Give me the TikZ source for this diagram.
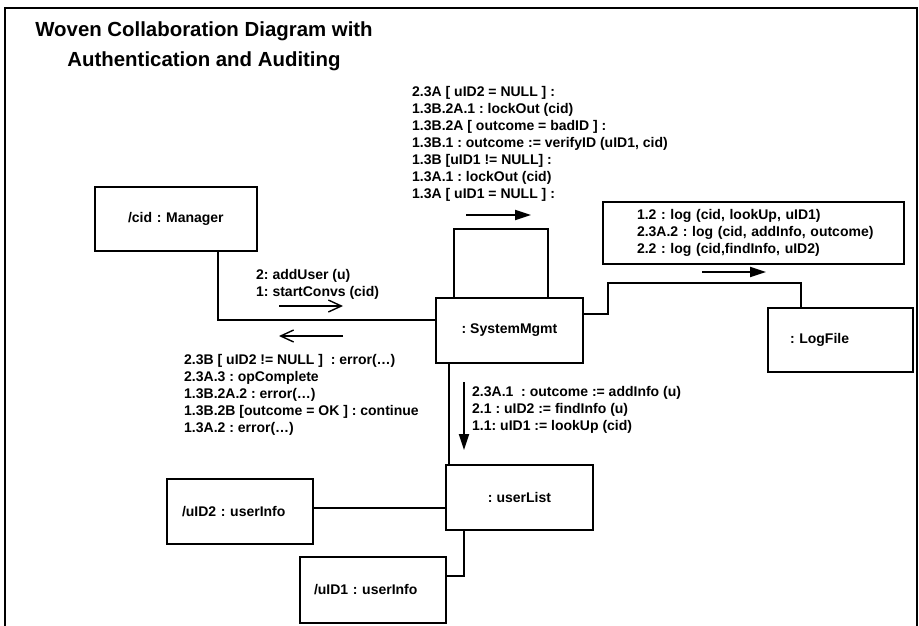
\documentclass[tikz,border=0pt]{standalone}
\usepackage{fontspec}
\setmainfont{Liberation Sans}
\usetikzlibrary{arrows.meta}
\frenchspacing
\begin{document}
\begin{tikzpicture}[x=1pt,y=-1pt,
  font=\bfseries\fontsize{14}{17.1}\selectfont,
  obj/.style={draw, line width=1.7pt, minimum width=146pt, minimum height=65pt, inner ysep=0pt, align=left},
  link/.style={line width=1.7pt},
  msg/.style={align=left, anchor=north west, inner sep=0pt},
  solidarrow/.style={line width=1.8pt, -{Triangle[length=16pt,width=10pt]}},
  openarrow/.style={line width=1.4pt, -{Straight Barb[length=13pt,width=12pt]}},
]
\useasboundingbox (0,0) rectangle (919,625);

% outer frame
\draw[line width=2pt] (5,640) -- (5,8) -- (917,8) -- (917,640);

% title
\node[align=center, anchor=north, inner sep=0pt, font=\bfseries\fontsize{20.4}{30}\selectfont] (title) at (204,22)
  {Woven Collaboration Diagram with\\Authentication and Auditing};

% objects
\node[obj, minimum width=162pt, minimum height=64pt, inner xsep=33pt, text width=96pt] (mgr) at (176,219) {/cid : Manager};
\node[obj, minimum width=147pt, align=center] (sys) at (509.5,330.5) {: SystemMgmt};
\node[obj, minimum width=145pt, minimum height=64pt, inner xsep=22pt, text width=101pt] (logf) at (840.5,340) {: LogFile};
\node[obj, minimum width=147pt, align=center] (ul) at (519.5,497.5) {: userList};
\node[obj, inner xsep=15pt, text width=116pt] (uid2) at (240,511.5) {/uID2 : userInfo};
\node[obj, minimum height=66pt, inner xsep=14pt, text width=118pt] (uid1) at (373,590) {/uID1 : userInfo};

% note box with the logging messages
\node[draw, line width=1.5pt, minimum height=62pt, inner xsep=34pt, text width=233pt, align=left] (lognote) at (753.5,233)
  {\mbox{1.2 : log (cid, lookUp, uID1)}\\
   \mbox{2.3A.2 : log (cid, addInfo, outcome)}\\
   \mbox{2.2 : log (cid,findInfo, uID2)}};

% links
\draw[link] ([xshift=42pt]mgr.south) |- ([yshift=10.5pt]sys.west);
\draw[link] ([xshift=19pt]sys.north west) -- ++(0,-68) -| ([xshift=-36pt]sys.north east);
\draw[link] ([yshift=16.5pt]sys.east) -- ++(24,0) |- ([xshift=-39.5pt,yshift=24pt]logf.north) -- ([xshift=-39.5pt]logf.north);
\draw[link] ([xshift=14pt]sys.south west) -- ([xshift=14pt]sys.south west |- ul.north);
\draw[link] ([yshift=3.5pt]uid2.east) -- ([yshift=3.5pt]uid2.east -| ul.west);
\draw[link] ([xshift=19pt]ul.south west) |- ([yshift=14pt]uid1.east);

% message direction arrows
\coordinate (selfA) at (466,215);  \coordinate (selfB) at (531,215);
\coordinate (logA) at (702,272);   \coordinate (logB) at (766,272);
\coordinate (callA) at (279,306);  \coordinate (callB) at (343,306);
\coordinate (retA) at (343,336);   \coordinate (retB) at (279,336);
\coordinate (downA) at (464,382);  \coordinate (downB) at (464,450);
\draw[solidarrow] (selfA) -- (selfB);
\draw[solidarrow] (logA) -- (logB);
\draw[openarrow] (callA) -- (callB);
\draw[openarrow] (retA) -- (retB);
\draw[solidarrow] (downA) -- (downB);

% message labels
\node[msg] (selfmsg) at (412,86) {2.3A [ uID2 = NULL ] :\\
  1.3B.2A.1 : lockOut (cid)\\
  1.3B.2A [ outcome = badID ] :\\
  1.3B.1 : outcome := verifyID (uID1, cid)\\
  1.3B [uID1 != NULL] :\\
  1.3A.1 : lockOut (cid)\\
  1.3A [ uID1 = NULL ] :};
\node[msg] (callmsg) at (256,269) {2: addUser (u)\\1: startConvs (cid)};
\node[msg] (retmsg) at (184,354) {2.3B [ uID2 != NULL ]\ \ : error(…)\\
  2.3A.3 : opComplete\\
  1.3B.2A.2 : error(…)\\
  1.3B.2B [outcome = OK ] : continue\\
  1.3A.2 : error(…)};
\node[msg] (downmsg) at (472,386) {2.3A.1\ \ : outcome := addInfo (u)\\
  2.1 : uID2 := findInfo (u)\\
  1.1: uID1 := lookUp (cid)};
\end{tikzpicture}
\end{document}
